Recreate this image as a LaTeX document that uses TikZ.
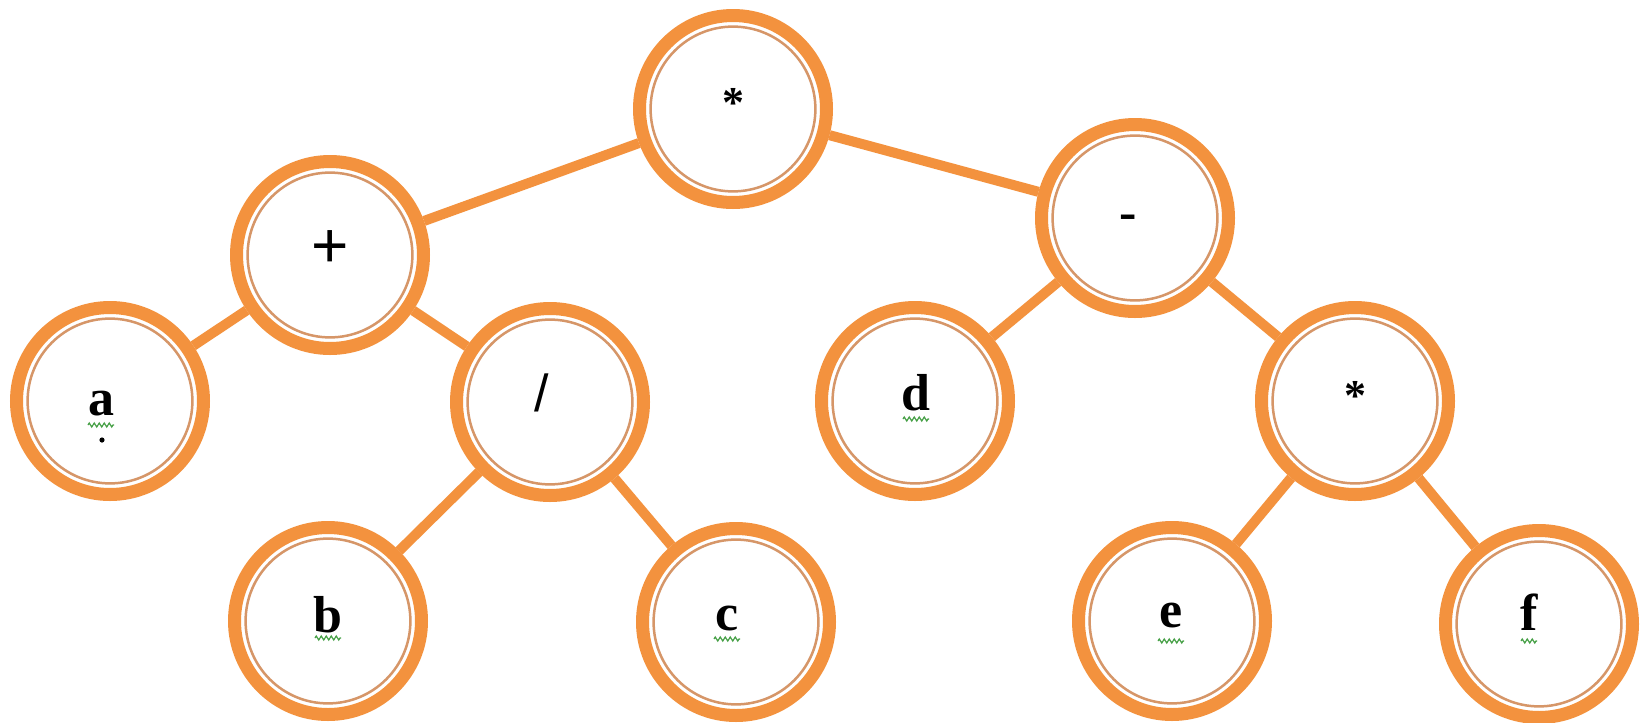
\documentclass[tikz,border=0pt]{standalone}
\usepackage{fontspec}
\setmainfont{Liberation Serif}
\newfontfamily\opsans{Liberation Sans}
\usetikzlibrary{decorations.pathmorphing}
\definecolor{ringorange}{RGB}{243,146,62}
\definecolor{ringinner}{RGB}{214,150,104}
\definecolor{squiggreen}{RGB}{70,160,70}
\tikzset{
  treenode/.style={circle, draw=ringorange, line width=6.5pt, fill=white,
    minimum size=93.5pt, inner sep=0pt,
    path picture={\draw[ringinner, line width=1.25pt]
      (path picture bounding box.center) circle (41.2pt);}},
  treeedge/.style={draw=ringorange, line width=5pt},
  lbl/.style={anchor=base, inner sep=0pt, font=\fontsize{26pt}{30pt}\selectfont\bfseries},
  starl/.style={anchor=base, inner sep=0pt, font=\fontsize{22pt}{26pt}\selectfont\bfseries},
  plusl/.style={anchor=base, inner sep=0pt, font=\fontsize{32pt}{36pt}\selectfont\opsans},
  slashl/.style={anchor=base, inner sep=0pt, font=\fontsize{26pt}{30pt}\selectfont\opsans},
  squig/.style={draw=squiggreen, line width=0.6pt, decorate,
    decoration={zigzag, segment length=2.5pt, amplitude=1pt}}
}
\begin{document}
\begin{tikzpicture}[x=0.5pt, y=-0.5pt]
\useasboundingbox[fill=white] (0,0) rectangle (1645,723);
% circles
\node[treenode] (r) at (733,109) {};
\node[treenode] (p) at (330,255) {};
\node[treenode] (m) at (1135,218) {};
\node[treenode] (a) at (110,401) {};
\node[treenode] (s) at (550,402) {};
\node[treenode] (d) at (915,401) {};
\node[treenode] (t) at (1355,401) {};
\node[treenode] (b) at (328,621) {};
\node[treenode] (c) at (736,622) {};
\node[treenode] (e) at (1172,621) {};
\node[treenode] (f) at (1539,624) {};
% connectors
\draw[treeedge] (r) -- (p);
\draw[treeedge] (r) -- (m);
\draw[treeedge] (p) -- (a);
\draw[treeedge] (p) -- (s);
\draw[treeedge] (s) -- (b);
\draw[treeedge] (s) -- (c);
\draw[treeedge] (m) -- (d);
\draw[treeedge] (m) -- (t);
\draw[treeedge] (t) -- (e);
\draw[treeedge] (t) -- (f);
% labels
\node[starl] (r-t) at (733,117) {*};
\node[plusl] (p-t) at (330,267) {+};
\node[lbl] (m-t) at (1128,229) {-};
\node[lbl] (a-t) at (101,415) {a};
\node[slashl] (s-t) at (542,411) {/};
\node[lbl] (d-t) at (916,410) {d};
\node[starl] (t-t) at (1355,410) {*};
\node[lbl] (b-t) at (328,632) {b};
\node[lbl] (c-t) at (727,630) {c};
\node[lbl] (e-t) at (1171,627) {e};
\node[lbl] (f-t) at (1529,630) {f};
% spelling squiggles
\draw[squig] (88,425) -- (114,425);
\draw[squig] (315,638) -- (341,638);
\draw[squig] (714,639) -- (740,639);
\draw[squig] (903,419) -- (929,419);
\draw[squig] (1158,641) -- (1184,641);
\draw[squig] (1521,641) -- (1537,641);
\fill (102,440) circle (1.3pt);
\end{tikzpicture}
\end{document}
